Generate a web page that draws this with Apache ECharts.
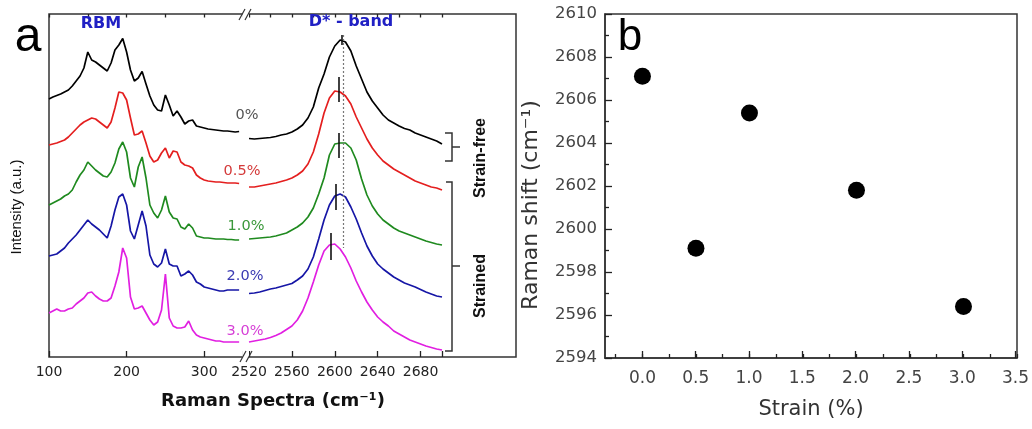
<!DOCTYPE html>
<html><head><meta charset="utf-8">
<script src="https://cdn.jsdelivr.net/npm/echarts@6/dist/echarts.min.js"></script>
<style>html,body{margin:0;padding:0;background:#fff}#c{width:1032px;height:429px}</style>
</head><body><div id="c"></div>
<script>
// ---- Panel a: Raman spectra (offset-stacked, arbitrary units) ----
const rbmShift = [100,105,110,115,120,125,130,135,140,145,150,155,160,165,170,175,180,185,190,195,200,205,210,215,220,225,230,235,240,245,250,255,260,265,270,275,280,285,290,295,300,305,310,315,320,325,330,335,340,345];
const dShift = [2520,2525,2530,2535,2540,2545,2550,2555,2560,2565,2570,2575,2580,2585,2590,2595,2600,2605,2610,2615,2620,2625,2630,2635,2640,2645,2650,2655,2660,2665,2670,2675,2680,2685,2690,2695,2700];

const rbm0  = [258,260,261.5,263,265,267,271,276,281,289,305,297,295,292,289,286,294,307,312,318.5,305,287,276,279,285.5,273,261,252,247,246,262,252,241,246,240,233,236,237,231,230,229,228,227.5,227,226.5,226,226,225.5,225,225.5];
const rbm05 = [212,213,214,215.5,217,220,224,228,232,235,237,239,238,235,232,229,235,249,265,264,257,239,222,223,226,214,201,195,197,204,209,199,206,205,195,192,191,189,182,179,177,176,175.5,175,175,174.5,174,174,174,173.5];
const rbm10 = [152,154,156,158,161,163,167,175,182,187,195,191,187,184,181,180,185,194,208,215,205,179,170,190,200,179,152,144,139,147,161,145,139,138,130,128,133,129,121,120,119,119,118.5,118,118,118,117.5,117.5,117,117];
const rbm20 = [101,102,103,106,109,114,118,122,127,132,137,133,130,127,123,119,131,147,160,163,152,126,118,132,146,131,102,93,90,94,108,93,91,91,81,83,86,82,75,73,70,69,68,67,66,66,67,67,67,67];
const rbm30 = [44,46,48,46,46,48,49,53,56,59,64,65,61,58,56,56,59,71,85,109,99,60,48,49,51,44,37,32,35,47,83,39,31,29,29,30,36,27,22,20,19,18,17,16,16,15,15,15,15,15];

const d0  = [218.5,218,218.5,219,219.5,220.5,222,223,225,228,232,239,250,269,283,300,311,317,315,306,291,278,265,256,249,242,237,234,231,228.5,227,224,222,220,218,216,213];
const d05 = [170,170,171,172,173,174,175.5,177,179,182,186,193,205,223,244,259,266,265,261,253,240,229,218,209,202,196,192,188,185,182,179,176,174,172,170,169,167];
const d10 = [118,118.5,119,119.5,120,121,122.5,124,127,130,134,140,149,163,179,202,213,214,214,209,197,178,162,151,143,137,133,129,126,124,122,120,118,116,114.5,113,112];
const d20 = [63.5,64,65,66.5,68,69,70.5,72,73.5,77,81,88,100,118,137,152,161,163,160,150,138,124,111,101,93,88,84,80,77,74,72,70,67.5,65,63,61,60];
const d30 = [15,16,17,18,19.5,21.5,24,27.5,31,37,46,59,75,92,106,112,113,108,100,89,76,65,55,47,40,35,31,26,23,20,17,15,13,11,9.5,8,7];

const strainLabels = ['0%','0.5%','1.0%','2.0%','3.0%'];
const peakPos = [2606.7, 2603.3, 2603.3, 2601.0, 2596.5];
const peakTop = [322, 280, 224, 173, 124];
const peakBot = [312, 255, 199, 147, 97];
const refLine = {pos: 2607.5, top: 322, bottom: 109};

const rbmRange = [100, 350];
const dRange = [2520, 2700];
const rbmLabelled = [100, 200, 300];
const dLabelled = [2520, 2560, 2600, 2640, 2680];

// ---- Panel b: peak position vs strain ----
const strain = [0.0, 0.5, 1.0, 2.0, 3.0];
const ramanShift = [2607.1, 2599.1, 2605.4, 2601.8, 2596.4];
const strainRange = [-0.35, 3.5];
const shiftRange = [2594, 2610];

const lineColors = ['#000000','#e41f1f','#1f8a1f','#1616a6','#e11fe1'];
const labelColors = ['#555555','#d43a3a','#3a983a','#3a3ab2','#d640d6'];
const labelPos = [[247,115],[242,171],[246,226],[245,276],[245,331]];

const DJ = 'DejaVu Sans';
const LB = 'Liberation Sans';

const rbmAll = [rbm0, rbm05, rbm10, rbm20, rbm30];
const dAll = [d0, d05, d10, d20, d30];

const chart = echarts.init(document.getElementById('c'), null, {renderer:'canvas'});

const tickStyle = {color:'#222', width:1.3};
function segAxis(grid, range, interval, labelled, len) {
  return {
    type:'value', gridIndex:grid, min:range[0], max:range[1], interval:interval,
    axisLine:{show:false, onZero:false},
    axisTick:{show:true, inside:true, length:len, lineStyle:tickStyle},
    axisLabel:{show:!!labelled, margin:8, color:'#222', fontFamily:DJ, fontSize:14,
      showMinLabel:true, showMaxLabel:true,
      formatter: v => (labelled && labelled.indexOf(v) >= 0) ? String(v) : ''},
    splitLine:{show:false}
  };
}

const bLeft = 605, bWidth = 412, bTop = 14, bHeight = 344;
const pxPerUnit = bWidth / (strainRange[1] - strainRange[0]);

const series = [];
rbmAll.forEach((arr, i) => {
  series.push({
    type:'line', xAxisIndex:0, yAxisIndex:0, showSymbol:false, symbol:'none',
    lineStyle:{color:lineColors[i], width:1.7}, silent:true,
    data: rbmShift.map((x, j) => [x, arr[j]])
  });
});
dAll.forEach((arr, i) => {
  series.push({
    type:'line', xAxisIndex:2, yAxisIndex:1, showSymbol:false, symbol:'none',
    lineStyle:{color:lineColors[i], width:1.7}, silent:true,
    data: dShift.map((x, j) => [x, arr[j]]),
    markLine:{silent:true, symbol:['none','none'], label:{show:false},
      lineStyle:{color:'#111', width:1.6, type:'solid'},
      data:[[{coord:[peakPos[i], peakTop[i]]},{coord:[peakPos[i], peakBot[i]]}]]}
  });
});
series.push({
  type:'line', xAxisIndex:2, yAxisIndex:1, data:[], silent:true,
  markLine:{silent:true, symbol:['none','none'], label:{show:false},
    lineStyle:{color:'#777', width:1.2, type:[2,2]},
    data:[[{coord:[refLine.pos, refLine.top]},{coord:[refLine.pos, refLine.bottom]}]]}
});
series.push({
  type:'scatter', xAxisIndex:5, yAxisIndex:3, symbol:'circle', symbolSize:17,
  itemStyle:{color:'#000', opacity:1}, silent:true,
  data: strain.map((s, i) => [s, ramanShift[i]])
});

const graphic = [];
function txt(x, y, text, font, color, extra) {
  graphic.push(Object.assign({type:'text', x:x, y:y, z:100, silent:true,
    style:{text:text, font:font, fill:color, textAlign:'center', textVerticalAlign:'middle'}}, extra||{}));
}
function line(x1,y1,x2,y2,w,c) {
  graphic.push({type:'line', z:100, silent:true, shape:{x1,y1,x2,y2}, style:{stroke:c||'#333', lineWidth:w||1.5}});
}
txt(28, 38, 'a', '48px "'+LB+'"', '#000');
txt(630, 38, 'b', '44px "'+LB+'"', '#000');
txt(101, 24, 'RBM', 'bold 16px "'+DJ+'"', '#2020c4');
txt(351, 22, 'D* - band', 'bold 16px "'+DJ+'"', '#2020c4');
strainLabels.forEach((t, i) => txt(labelPos[i][0], labelPos[i][1], t, '14.5px "'+DJ+'"', labelColors[i]));
txt(17, 207, 'Intensity (a.u.)', '15px "'+LB+'"', '#111', {rotation:Math.PI/2});
txt(273, 401, 'Raman Spectra (cm\u207B\u00B9)', 'bold 18px "'+DJ+'"', '#111');
txt(531, 205, 'Raman shift (cm\u207B\u00B9)', '22px "'+DJ+'"', '#333', {rotation:Math.PI/2});
graphic.push({type:'polyline', z:100, silent:true, shape:{points:[[445,133],[452,133],[452,161],[445,161]]}, style:{stroke:'#333', lineWidth:1.5, fill:null}});
line(452,147,460,147);
graphic.push({type:'polyline', z:100, silent:true, shape:{points:[[446,182],[452,182],[452,351],[445,351]]}, style:{stroke:'#333', lineWidth:1.5, fill:null}});
line(452,266,460,266);
txt(481, 158, 'Strain-free', 'bold 16px "'+LB+'"', '#111', {rotation:Math.PI/2});
txt(481, 286, 'Strained', 'bold 16px "'+LB+'"', '#111', {rotation:Math.PI/2});
graphic.push({type:'rect', z:99, silent:true, shape:{x:242.5,y:349,width:6.5,height:12}, style:{fill:'#fff'}});
graphic.push({type:'rect', z:99, silent:true, shape:{x:242.5,y:10,width:6.5,height:8}, style:{fill:'#fff'}});
line(240,362,246,351,1.2);
line(246,362,252,351,1.2);
line(239,20,245,9,1.2);
line(245,20,251,9,1.2);

const minorStart = -0.25, majorStart = 0;
const option = {
  animation:false,
  backgroundColor:'#fff',
  grid:[
    {left:49, top:14, width:194, height:343, show:false},
    {left:249, top:14, width:193, height:343, show:false},
    {left:49, top:14, width:467, height:343, show:true, borderColor:'#333', borderWidth:1.5, backgroundColor:'transparent'},
    {left:bLeft, top:bTop, width:bWidth, height:bHeight, show:true, borderColor:'#333', borderWidth:1.5, backgroundColor:'transparent'},
    {left:bLeft + (minorStart - strainRange[0]) * pxPerUnit, top:bTop, width:(strainRange[1] - minorStart) * pxPerUnit, height:bHeight, show:false},
    {left:bLeft + (majorStart - strainRange[0]) * pxPerUnit, top:bTop, width:(strainRange[1] - majorStart) * pxPerUnit, height:bHeight, show:false}
  ],
  xAxis:[
    segAxis(0, rbmRange, 100, rbmLabelled, 6),
    segAxis(0, rbmRange, 50, null, 3.5),
    segAxis(1, dRange, 40, dLabelled, 6),
    segAxis(1, dRange, 20, null, 3.5),
    {type:'value', gridIndex:2, show:false, min:0, max:1},
    {type:'value', gridIndex:3, min:strainRange[0], max:strainRange[1],
      name:'Strain (%)', nameLocation:'middle', nameGap:41,
      nameTextStyle:{fontFamily:DJ, fontSize:21, color:'#333'},
      axisLine:{show:true, onZero:false, lineStyle:{color:'#333', width:1.5}},
      axisTick:{show:false}, axisLabel:{show:false}, splitLine:{show:false}},
    {type:'value', gridIndex:4, min:minorStart, max:strainRange[1], interval:0.25,
      axisLine:{show:false, onZero:false},
      axisTick:{show:true, inside:true, length:4, lineStyle:tickStyle},
      axisLabel:{show:false}, splitLine:{show:false}},
    {type:'value', gridIndex:5, min:majorStart, max:strainRange[1], interval:0.5,
      axisLine:{show:false, onZero:false},
      axisTick:{show:true, inside:true, length:7, lineStyle:tickStyle},
      axisLabel:{margin:12, color:'#444', fontFamily:DJ, fontSize:17, showMaxLabel:true,
        formatter:v => v.toFixed(1)},
      splitLine:{show:false}}
  ],
  yAxis:[
    {type:'value', gridIndex:0, min:0, max:343, show:false},
    {type:'value', gridIndex:1, min:0, max:343, show:false},
    {type:'value', gridIndex:2, min:0, max:1, show:false},
    {type:'value', gridIndex:3, min:shiftRange[0], max:shiftRange[1], interval:2,
      axisLine:{show:true, onZero:false, lineStyle:{color:'#333', width:1.5}},
      axisTick:{show:true, inside:true, length:7, lineStyle:tickStyle},
      minorTick:{show:true, splitNumber:2, length:4, lineStyle:tickStyle},
      axisLabel:{margin:8, color:'#444', fontFamily:DJ, fontSize:16.5, formatter:v => String(v)},
      splitLine:{show:false}, minorSplitLine:{show:false}},
    {type:'value', gridIndex:4, show:false, min:0, max:1},
    {type:'value', gridIndex:5, show:false, min:0, max:1}
  ],
  graphic: graphic,
  series: series
};
chart.setOption(option);
</script></body></html>
